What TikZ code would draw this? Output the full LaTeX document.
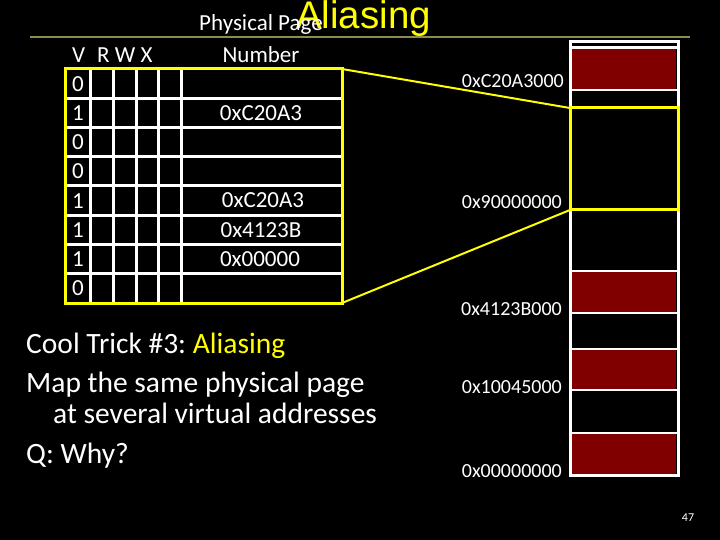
\documentclass[tikz,border=0pt]{standalone}
\usepackage{fontspec}
\setmainfont{Carlito}
\newfontfamily\headfont{Liberation Sans}
\usetikzlibrary{positioning}
\definecolor{slideyellow}{RGB}{255,255,0}
\definecolor{ruleolive}{RGB}{140,140,80}
\definecolor{pagered}{RGB}{128,0,0}

\begin{document}
\begin{tikzpicture}[x=1pt, y=-1pt,
    cell/.style={text=white, inner sep=0pt, font=\fontsize{23}{25}\selectfont},
    addr/.style={text=white, inner sep=0pt, anchor=base east, font=\fontsize{20}{22}\selectfont},
    body/.style={text=white, inner sep=0pt, anchor=base west, font=\fontsize{29.5}{32}\selectfont},
    frame/.style={inner sep=0pt, outer sep=0pt, line width=3pt}]
    \fill[black] (0,0) rectangle (720,540);
    \useasboundingbox (0,0) rectangle (720,540);

    \node[text=slideyellow, inner sep=0pt, anchor=base west, font=\headfont\fontsize{38.5}{40}\selectfont] (title) at (296,29) {Aliasing};
    \draw[ruleolive, line width=2pt] (30,37) -- (690,37);

    \node[cell, anchor=base] (hppn) at (261,31) {Physical Page};
    \node[cell, anchor=base] (hnum) at (261,63) {Number};
    \node[cell, anchor=base west] (hv) at (72,63) {V};
    \node[cell, anchor=base west] (hrwx) at (97,63) {R W X};

    % page table
    \foreach \k in {1,...,7}
      \draw[white, line width=3pt] (65,{69+29.25*\k}) -- (342,{69+29.25*\k});
    \foreach \x in {90,113,136,158,181}
      \draw[white, line width=3pt] (\x,69) -- (\x,303);
    \node[frame, draw=slideyellow, minimum width=277pt, minimum height=234pt] (pte) at (203.5,186) {};

    \foreach \v [count=\i] in {0,1,0,0,1,1,1,0}
      \node[cell] (v\i) at (78,{69+29.25*(\i-0.5)}) {\v};
    \node[cell] (ppn2) at (261,112.9) {0xC20A3};
    \node[cell] (ppn5) at (263,200.6) {0xC20A3};
    \node[cell] (ppn6) at (261,229.9) {0x4123B};
    \node[cell] (ppn7) at (260,259.1) {0x00000};

    % physical memory
    \foreach \a/\b in {49/89, 272/312, 350/389, 434/474}
      \fill[pagered] (572,\a) rectangle (676,\b);
    \foreach \y in {47.5,90,271,313,349,390,433}
      \draw[white, line width=2.5pt] (570,\y) -- (678,\y);
    \node[frame, draw=white, minimum width=108pt, minimum height=433pt] (mem) at (624,258.5) {};
    \node[frame, draw=slideyellow, minimum width=108pt, minimum height=102pt] (alias) at (624,159) {};

    \draw[slideyellow, line width=2pt] (pte.north east) -- (alias.north west);
    \draw[slideyellow, line width=2pt] (pte.south east) -- (alias.south west);

    \node[addr] (a1) at (564,88) {0xC20A3000};
    \node[addr] (a2) at (562,208) {0x90000000};
    \node[addr] (a3) at (562,315) {0x4123B000};
    \node[addr] (a4) at (562,393) {0x10045000};
    \node[addr] (a5) at (562,477) {0x00000000};

    \node[body] (trick) at (26,353) {Cool Trick \#3:~\textcolor{slideyellow}{Aliasing}};
    \node[body] (mapa) at (26,392) {Map the same physical page};
    \node[body] (mapb) at (53,423) {at several virtual addresses};
    \node[body] (why) at (26,463) {Q: Why?};

    \node[text=white, inner sep=0pt, font=\fontsize{12}{14}\selectfont] (pagenum) at (688,518) {47};
  \end{tikzpicture}
\end{document}
